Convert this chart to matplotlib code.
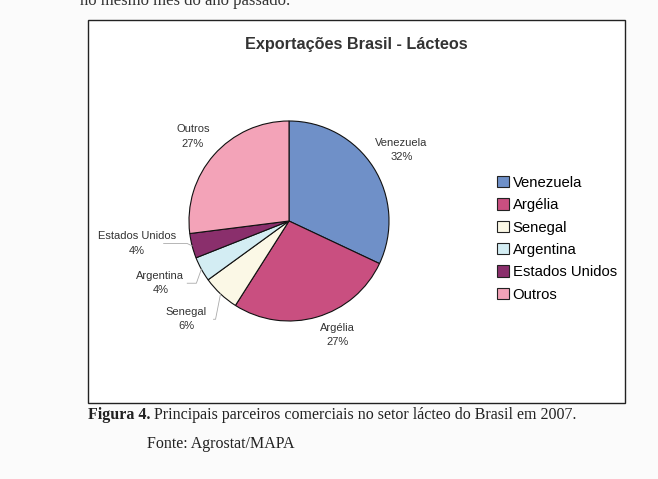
import numpy as np
import matplotlib
matplotlib.use("Agg")
import matplotlib.pyplot as plt
from matplotlib.patches import Rectangle, Patch

# Exportações Brasil - Lácteos (2007), shares in %
countries = ["Venezuela", "Argélia", "Senegal", "Argentina", "Estados Unidos", "Outros"]
shares = [32, 27, 6, 4, 4, 27]
colors = ["#6f90c8", "#c94f80", "#fbf8e6", "#d3edf3", "#8a2f6c", "#f3a3b8"]

# label placement: distance from centre (in radii) and angle shift (deg)
label_dist = [1.33, 1.24, 1.42, 1.43, 1.54, 1.28]
label_shift = [0, 7, -3, -3, -6, 0]
leader = [False, False, True, True, True, False]

W, H = 658, 479
fig = plt.figure(figsize=(W / 100, H / 100), dpi=100)
fig.patch.set_facecolor("#fbfbfb")
plt.rcParams["font.family"] = ["Liberation Sans", "DejaVu Sans"]

def px(x, y):
    return x / W, 1 - y / H

# chart frame
x0, y0 = px(88, 20)
x1, y1 = px(625, 403)
fig.patches.append(Rectangle((x0, y1), x1 - x0, y0 - y1, transform=fig.transFigure,
                             facecolor="white", edgecolor="#222222", linewidth=1.0, zorder=-5))

# clipped line of the page text above the chart
fig.text(*px(80, 5), "no mesmo mês do ano passado.", family="Liberation Serif",
         fontsize=12, va="baseline", color="#333333")

fig.text(*px(356, 45), "Exportações Brasil - Lácteos", ha="center", va="center",
         fontsize=11.7, fontweight="bold", color="#333333")

# pie axes: centre at (289, 221) px, radius 100 px
cx, cy, r = 289, 221, 100
half = 1.2 * r
ax = fig.add_axes([(cx - half) / W, (H - cy - half) / H, 2 * half / W, 2 * half / H])
ax.set_axis_off()

wedges, _ = ax.pie(shares, colors=colors, startangle=90, counterclock=False,
                   radius=1.0, center=(0, 0),
                   wedgeprops=dict(edgecolor="#111111", linewidth=0.8))
ax.set_xlim(-1.2, 1.2)
ax.set_ylim(-1.2, 1.2)
ax.set_aspect("equal")

for w, name, s, d, sh, ld in zip(wedges, countries, shares, label_dist, label_shift, leader):
    mid = np.deg2rad((w.theta1 + w.theta2) / 2)
    ang = mid + np.deg2rad(sh)
    tx, ty = d * np.cos(ang), d * np.sin(ang)
    ax.text(tx, ty, f"{name}\n{s}%", ha="center", va="center", fontsize=8,
            color="#333333", linespacing=1.55, clip_on=False)
    if ld:
        ex, ey = np.cos(mid), np.sin(mid)
        ax.plot([ex, ex - 0.05, tx + 0.27],
                [ey, ty, ty], color="#aaaaaa", linewidth=0.6, clip_on=False)

handles = [Patch(facecolor=c, edgecolor="#222222", linewidth=0.8) for c in colors]
fig.legend(handles, countries, loc="upper left", bbox_to_anchor=px(491, 170),
           frameon=False, fontsize=10.7, handlelength=0.8, handleheight=0.8,
           handletextpad=0.25, labelspacing=0.56, borderaxespad=0)

fig.text(*px(88, 419), "Figura 4.", family="Liberation Serif", fontweight="bold",
         fontsize=11.5, va="baseline", color="#222222")
fig.text(*px(154, 419), "Principais parceiros comerciais no setor lácteo do Brasil em 2007.",
         family="Liberation Serif", fontsize=11.5, va="baseline", color="#222222")
fig.text(*px(147, 448), "Fonte: Agrostat/MAPA", family="Liberation Serif",
         fontsize=11.5, va="baseline", color="#222222")

fig.savefig("out.png", dpi=100, facecolor=fig.get_facecolor())
